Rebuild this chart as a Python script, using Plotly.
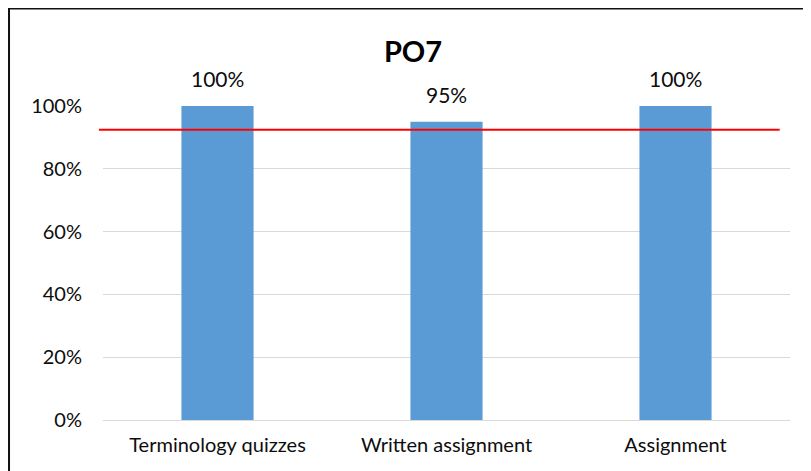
import plotly.graph_objects as go

# Chart data
categories = ["Terminology quizzes", "Written assignment", "Assignment"]
values = [1.00, 0.95, 1.00]
target = 0.924
y_ticks = [0, 0.2, 0.4, 0.6, 0.8, 1.0]
y_tick_labels = ["0%", "20%", "40%", "60%", "80%", "100%"]
title = "PO7"

BAR_COLOR = "#5B9BD5"
FONT = "Lato, 'Open Sans', sans-serif"

fig = go.Figure()

fig.add_trace(
    go.Bar(
        x=categories,
        y=values,
        marker=dict(color=BAR_COLOR, line=dict(width=0)),
        width=0.315,
        hoverinfo="skip",
        showlegend=False,
    )
)

# Value labels above each bar
for cat, v in zip(categories, values):
    fig.add_annotation(
        x=cat,
        y=v,
        text=f"{v * 100:.0f}%",
        showarrow=False,
        xanchor="center",
        yanchor="bottom",
        yshift=13,
        font=dict(size=21, color="#0d0d0d", family=FONT),
    )

# Red target line
fig.add_shape(
    type="line",
    xref="paper",
    yref="y",
    x0=-0.006,
    x1=0.985,
    y0=target,
    y1=target,
    line=dict(color="#FF0000", width=2),
)

# Outer frame (only top and left edges fall inside the page)
fig.add_shape(
    type="rect",
    xref="paper",
    yref="paper",
    x0=-0.1368,
    x1=1.5,
    y0=-0.6,
    y1=1.3105,
    line=dict(color="#111111", width=2),
    fillcolor="rgba(0,0,0,0)",
)

fig.update_layout(
    width=811,
    height=471,
    paper_bgcolor="white",
    plot_bgcolor="white",
    margin=dict(l=95, r=29, t=98, b=59),
    font=dict(family=FONT, size=19, color="#0d0d0d"),
    title=dict(
        text=f"<b>{title}</b>",
        x=405 / 811,
        xref="container",
        xanchor="center",
        y=1 - 44 / 471,
        yref="container",
        yanchor="middle",
        font=dict(size=29, color="#000000", family=FONT),
    ),
    bargap=0.685,
)

fig.update_xaxes(
    showgrid=False,
    showline=False,
    ticks="",
    tickfont=dict(size=20, color="#0d0d0d"),
    ticklabelstandoff=11,
)
fig.update_yaxes(
    range=[0, 1],
    tickvals=y_ticks,
    ticktext=y_tick_labels,
    showgrid=True,
    gridcolor="#D9D9D9",
    gridwidth=1,
    zeroline=True,
    zerolinecolor="#D9D9D9",
    zerolinewidth=1,
    showline=False,
    ticks="",
    tickfont=dict(size=20, color="#0d0d0d"),
    ticklabelstandoff=20,
)

fig.write_html("out.html")
